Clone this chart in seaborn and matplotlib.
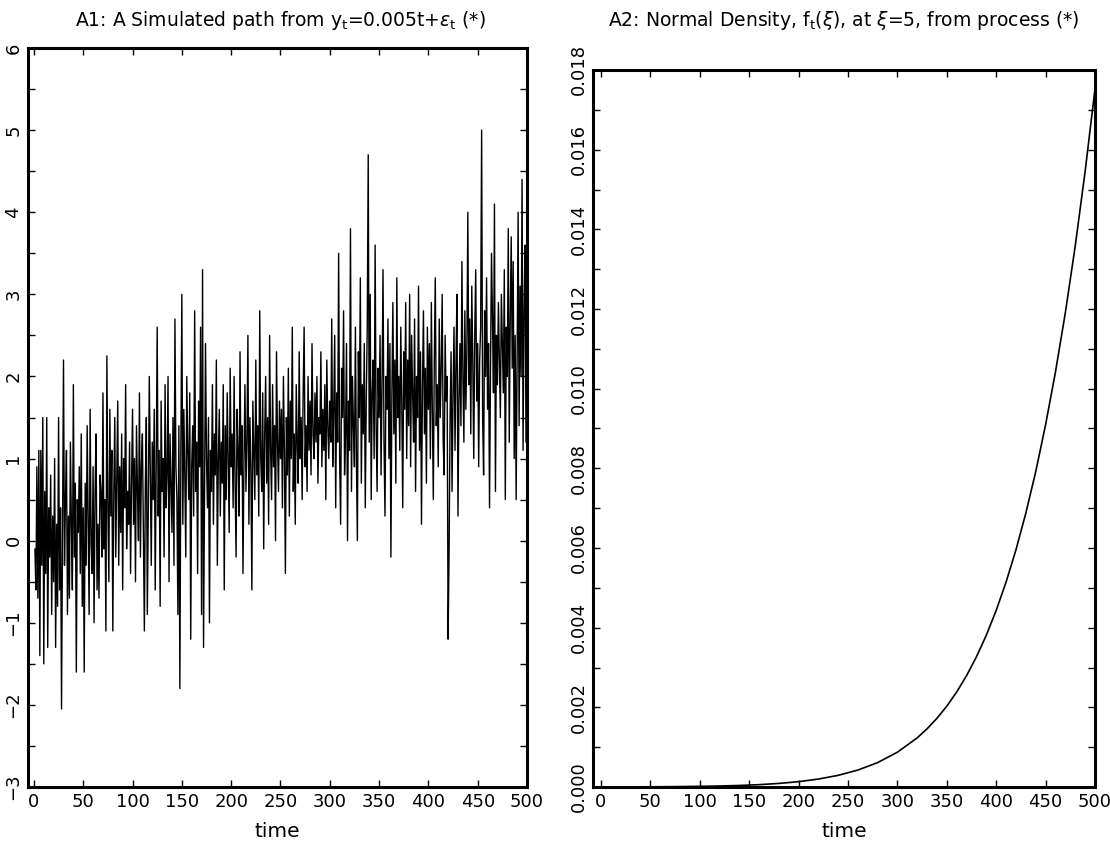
import numpy as np
import pandas as pd
import matplotlib
matplotlib.use("Agg")
import matplotlib.pyplot as plt
from matplotlib.ticker import MultipleLocator, FormatStrFormatter
import seaborn as sns

# ---- Data: simulated path y_t (t = 1..500) ----
path_values = [
    -0.1, -0.6, 0.9, -0.7, 1.1, -1.4, 1.1, -0.3, 1.5, -1.5, 0.6, -0.4, 1.5, -1.3, 0.4, -0.2, 0.8, -0.9, 0.3, -0.5, 1.0, -1.3, 0.2, -0.8, 1.5,
    -0.6, 0.4, -2.05, 0.1, 2.2, -0.3, 0.5, 1.1, -0.9, 0.3, -0.7, 1.2, 0.2, -0.6, 1.9, -0.2, 0.7, -1.6, 0.5, 0.1, 0.9, -0.4, 1.3, -0.8, 0.4,
    -1.6, 0.7, -0.3, 1.4, 0.2, -0.9, 1.6, 0.0, -0.4, 0.9, -1.0, 0.6, 1.3, -0.6, 0.2, -0.7, 0.8, 0.6, -0.2, 1.8, -0.1, 0.5, -1.1, 2.25, 0.4,
    -0.5, 1.6, 0.3, 1.1, -1.1, 0.6, 1.5, -0.2, 0.8, 1.7, -0.3, 0.9, 0.1, 1.3, -0.6, 1.0, 0.4, 1.9, -0.1, 0.6, 0.2, 1.2, -0.4, 0.7, 1.6,
    0.2, 1.0, -0.5, 1.4, 0.6, 0.0, 1.8, -0.2, 0.9, 1.3, 0.1, -1.1, 0.7, 1.5, -0.9, 0.4, 2.0, 0.8, -0.3, 1.2, 0.5, 1.6, -0.6, 0.9, 2.6,
    0.3, 1.1, -0.8, 1.7, 0.6, 1.0, -0.2, 1.9, 0.4, 0.8, 2.0, -0.5, 1.3, 0.7, 0.1, 1.5, -0.3, 2.7, 0.9, 0.5, -0.9, 1.4, -1.8, 1.1, 3.0,
    0.2, 1.6, 0.8, -0.2, 2.0, 1.1, 0.5, 1.8, -1.2, 0.9, 1.4, 0.3, 2.8, 0.6, 1.2, -0.4, 1.7, 0.9, 2.6, -0.9, 3.3, -1.3, 0.6, 2.4, 1.0,
    0.4, 1.5, -1.0, 1.1, 0.6, 1.9, 0.2, 1.3, 0.8, 2.2, -0.3, 1.0, 1.6, 0.3, 1.2, 0.7, 1.9, -0.6, 1.4, 0.5, 1.8, 1.0, 0.1, 2.1, 0.9,
    1.3, 0.4, 2.0, 0.7, -0.2, 1.6, 1.1, 0.3, 2.3, 0.8, 1.4, -0.4, 1.0, 1.9, 0.6, 1.2, 2.5, 0.2, 1.5, 0.9, -0.6, 1.7, 1.1, 0.5, 2.2,
    0.8, 1.4, 0.3, 2.8, 1.0, 0.6, 1.8, -0.1, 1.3, 2.0, 0.7, 1.5, 0.2, 2.5, 1.1, 0.5, 1.9, 0.9, 1.4, 0.0, 2.3, 1.2, 0.6, 1.7, 1.0,
    1.6, 0.4, 2.0, 1.1, -0.4, 1.5, 0.8, 2.1, 0.3, 1.7, 1.0, 2.6, 0.6, 1.3, 0.2, 1.9, 1.2, 0.7, 2.3, 1.0, 1.5, 0.5, 1.8, 2.6, 0.9,
    1.4, 0.6, 2.0, 1.1, 1.7, 0.8, 2.4, 1.3, 1.0, 1.8, 1.2, 2.0, 0.7, 1.5, 1.3, 2.3, 0.9, 1.6, 1.1, 1.9, 0.5, 2.2, 1.4, 1.0, 1.7,
    1.2, 2.7, 0.9, 1.6, 2.5, 0.4, 1.8, 1.2, 3.5, 1.0, 0.2, 2.1, 1.5, 2.8, 0.8, 1.3, 2.4, 0.0, 1.7, 1.1, 3.8, 0.6, 2.0, 1.4, 0.9,
    2.6, 1.0, 0.0, 2.3, 1.5, 3.2, 0.7, 1.9, 1.3, 2.4, 0.4, 1.7, 2.6, 4.7, 1.2, 3.0, 0.5, 1.8, 2.2, 1.0, 3.6, 1.4, 0.6, 2.1, 1.5,
    2.5, 0.8, 1.9, 3.3, 1.2, 0.3, 2.0, 1.6, 2.7, 1.0, 2.4, -0.2, 1.8, 2.9, 1.3, 2.2, 0.7, 3.2, 1.5, 2.0, 1.1, 2.6, 1.7, 0.4, 2.3,
    1.6, 2.9, 1.0, 2.2, 1.4, 3.0, 0.9, 2.5, 1.8, 1.2, 2.7, 0.6, 2.0, 1.5, 3.1, 1.1, 2.3, 0.2, 1.9, 2.8, 1.3, 2.1, 0.7, 2.6, 1.6,
    2.4, 1.0, 2.9, 1.6, 0.5, 2.2, 3.2, 1.4, 1.9, 0.9, 2.7, 1.5, 2.1, 3.0, 1.2, 0.8, 2.5, 1.7, 2.0, -1.2, -0.1, 1.5, 2.3, 0.6, 1.8,
    2.6, 1.1, 2.2, 3.0, 0.3, 1.7, 2.4, 1.4, 3.4, 2.0, 1.2, 2.8, 1.6, 2.3, 4.0, 1.9, 2.7, 1.3, 3.1, 2.2, 1.0, 2.5, 3.3, 1.7, 2.4,
    0.9, 2.2, 2.6, 5.0, 1.5, 0.8, 2.8, 2.0, 3.2, 1.6, 2.4, 0.4, 2.1, 3.5, 2.7, 1.8, 4.1, 0.6, 2.5, 1.9, 2.9, 2.2, 1.5, 3.0, 2.4,
    1.8, 3.3, 0.5, 2.6, 2.0, 3.8, 1.2, 2.7, 3.7, 2.1, 3.4, 1.0, 2.5, 0.5, 2.3, 4.0, 1.4, 3.1, 2.0, 4.4, 1.1, 2.8, 3.6, 1.2, 2.7,
]
path_time = list(range(1, len(path_values) + 1))

# ---- Data: normal density at xi = 5 ----
density_time = [0, 20, 40, 60, 80, 100, 120, 140, 160, 180, 200, 220, 240, 260, 280, 300,
                320, 330, 340, 350, 360, 370, 380, 390, 400, 410, 420, 430, 440, 450,
                460, 470, 480, 490, 500]
density_values = [1.49e-6, 2.44e-6, 3.96e-6, 6.37e-6, 1.01e-5, 1.60e-5, 2.49e-5, 3.85e-5,
                  5.89e-5, 8.92e-5, 1.338e-4, 1.987e-4, 2.92e-4, 4.25e-4, 6.12e-4, 8.73e-4,
                  1.232e-3, 1.459e-3, 1.723e-3, 2.028e-3, 2.384e-3, 2.794e-3, 3.267e-3,
                  3.810e-3, 4.432e-3, 5.144e-3, 5.953e-3, 6.875e-3, 7.915e-3, 9.094e-3,
                  1.0421e-2, 1.1908e-2, 1.3583e-2, 1.5450e-2, 1.7528e-2]

title_left = r"A1: A Simulated path from $\mathregular{y_t}$=0.005t+$\varepsilon_\mathregular{t}$ (*)"
title_right = r"A2: Normal Density, $\mathregular{f_t}$($\xi$), at $\xi$=5, from process (*)"

sns.set_theme(style="ticks")
plt.rcParams["font.family"] = ["DejaVu Sans"]
plt.rcParams["mathtext.fontset"] = "dejavusans"
plt.rcParams["text.color"] = "black"
plt.rcParams["axes.labelcolor"] = "black"
plt.rcParams["xtick.color"] = "black"
plt.rcParams["ytick.color"] = "black"

W, H = 1110, 843
fig = plt.figure(figsize=(W / 100, H / 100), dpi=100)
fig.patch.set_facecolor("white")

def px_axes(x0, x1, y0, y1):
    return fig.add_axes([x0 / W, 1 - y1 / H, (x1 - x0) / W, (y1 - y0) / H])

ax1 = px_axes(28, 527, 48, 787)
ax2 = px_axes(593, 1095, 70, 787)

df1 = pd.DataFrame({"time": path_time, "y": path_values})
df2 = pd.DataFrame({"time": density_time, "f": density_values})

sns.lineplot(data=df1, x="time", y="y", ax=ax1, color="black", linewidth=1.0)
sns.lineplot(data=df2, x="time", y="f", ax=ax2, color="black", linewidth=1.2)

ax1.set_xlim(-6, 500)
ax1.set_ylim(-3, 6)
ax1.yaxis.set_major_locator(MultipleLocator(1))
ax1.yaxis.set_minor_locator(MultipleLocator(0.5))

ax2.set_xlim(-8, 500)
ax2.set_ylim(0, 0.018)
ax2.yaxis.set_major_locator(MultipleLocator(0.002))
ax2.yaxis.set_minor_locator(MultipleLocator(0.001))
ax2.yaxis.set_major_formatter(FormatStrFormatter("%.3f"))

for ax in (ax1, ax2):
    ax.set_facecolor("white")
    ax.xaxis.set_major_locator(MultipleLocator(50))
    ax.set_xlabel("time", fontsize=14.5, labelpad=8, color="black")
    ax.set_ylabel("")
    for s in ax.spines.values():
        s.set_visible(True)
        s.set_linewidth(2.2)
        s.set_color("black")
    ax.tick_params(axis="both", which="both", direction="in", top=True, right=True,
                   length=5, width=1.0, color="black", labelcolor="black")
    ax.tick_params(axis="both", which="major", labelsize=13, pad=4)
    for lbl in ax.get_yticklabels():
        lbl.set_rotation(90)
        lbl.set_va("center")

fig.text(280 / W, 1 - 20 / H, title_left, ha="center", va="center", fontsize=13.5, color="black")
fig.text(844 / W, 1 - 20 / H, title_right, ha="center", va="center", fontsize=13.5, color="black")

fig.savefig("out.png", dpi=100, facecolor="white")
